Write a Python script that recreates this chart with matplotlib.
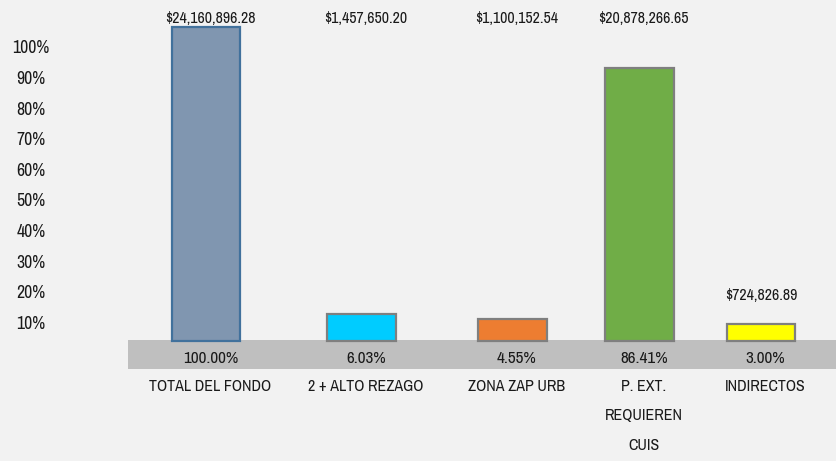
import matplotlib
matplotlib.use("Agg")
import matplotlib.pyplot as plt
from matplotlib import font_manager

# ---- data ----
categories = ["TOTAL DEL FONDO", "2 + ALTO REZAGO", "ZONA ZAP URB",
              "P. EXT.\nREQUIEREN\nCUIS", "INDIRECTOS"]
percent_values = [100.00, 6.03, 4.55, 86.41, 3.00]
amount_labels = ["$24,160,896.28", "$1,457,650.20", "$1,100,152.54",
                 "$20,878,266.65", "$724,826.89"]
percent_labels = ["100.00%", "6.03%", "4.55%", "86.41%", "3.00%"]
ytick_labels = ["10%", "20%", "30%", "40%", "50%", "60%", "70%", "80%", "90%", "100%"]

# ---- layout / style ----
x_slots = [-0.02, 1.017, 2.023, 2.869, 3.679]   # column centres (uneven table columns)
text_shift = 0.03
amount_on_top_row = [True, True, True, True, False]
fill_colors = ["#8096b0", "#00ccff", "#ed7d31", "#70ad47", "#ffff00"]
edge_colors = ["#41719c", "#7f7f7f", "#7f7f7f", "#7f7f7f", "#7f7f7f"]
bg = "#f2f2f2"
floor_color = "#bfbfbf"
floor_top = -2.35
bar_bottom = -2.8

def pick_font():
    for fam in ["Liberation Sans Narrow", "Archivo Narrow", "Liberation Sans"]:
        try:
            font_manager.findfont(font_manager.FontProperties(family=fam),
                                  fallback_to_default=False)
            return fam
        except Exception:
            pass
    return "DejaVu Sans"

fam = pick_font()
narrow = fam != "Liberation Sans"
plt.rcParams["font.family"] = [fam, "DejaVu Sans"]
scale = 1.0 if narrow else 0.85

fig = plt.figure(figsize=(8.36, 4.61), dpi=100, facecolor=bg)
ax = fig.add_axes([128 / 836, (461 - 369) / 461, 1 - 128 / 836, 369 / 461])
ax.set_facecolor(bg)
ax.set_xlim(-0.54, 4.18)
ax.set_ylim(-11.79, 108.68)
for s in ax.spines.values():
    s.set_visible(False)

# floor band
ax.axhspan(-11.79, floor_top, color=floor_color, zorder=0, lw=0)

# bars
heights = [v - bar_bottom for v in percent_values]
ax.bar(x_slots, heights, bottom=bar_bottom, width=0.457,
       color=fill_colors, edgecolor=edge_colors, linewidth=1.6, zorder=2)

# amount labels
for x, v, lab, top in zip(x_slots, percent_values, amount_labels, amount_on_top_row):
    if top:
        ax.text(x + text_shift, 102.5, lab, ha="center", va="center",
                fontsize=11.4 * scale, color="#1a1a1a")
    else:
        ax.annotate(lab, (x, v), xytext=(0, 20), textcoords="offset points",
                    ha="center", va="center", fontsize=11.4 * scale, color="#1a1a1a")

# percent labels inside floor band
for x, lab in zip(x_slots, percent_labels):
    ax.text(x + text_shift, -8.2, lab, ha="center", va="center",
            fontsize=12.3 * scale, color="#1a1a1a")

# category labels
ax.set_xticks([x + text_shift for x in x_slots])
ax.set_xticklabels(categories, fontsize=11.5 * scale, color="#1a1a1a",
                   linespacing=2.2)
ax.tick_params(axis="x", length=0, pad=7)

# y tick labels (offset to match the perspective of the original axis)
ytick_pos = [10 * (i + 1) - 6.6 for i in range(len(ytick_labels))]
ax.set_yticks(ytick_pos)
ax.set_yticklabels(ytick_labels, fontsize=12.8 * scale, color="#1a1a1a")
ax.tick_params(axis="y", length=0, pad=70)
for t in ax.get_yticklabels():
    t.set_ha("center")

fig.savefig("out.png", dpi=100, facecolor=bg)
